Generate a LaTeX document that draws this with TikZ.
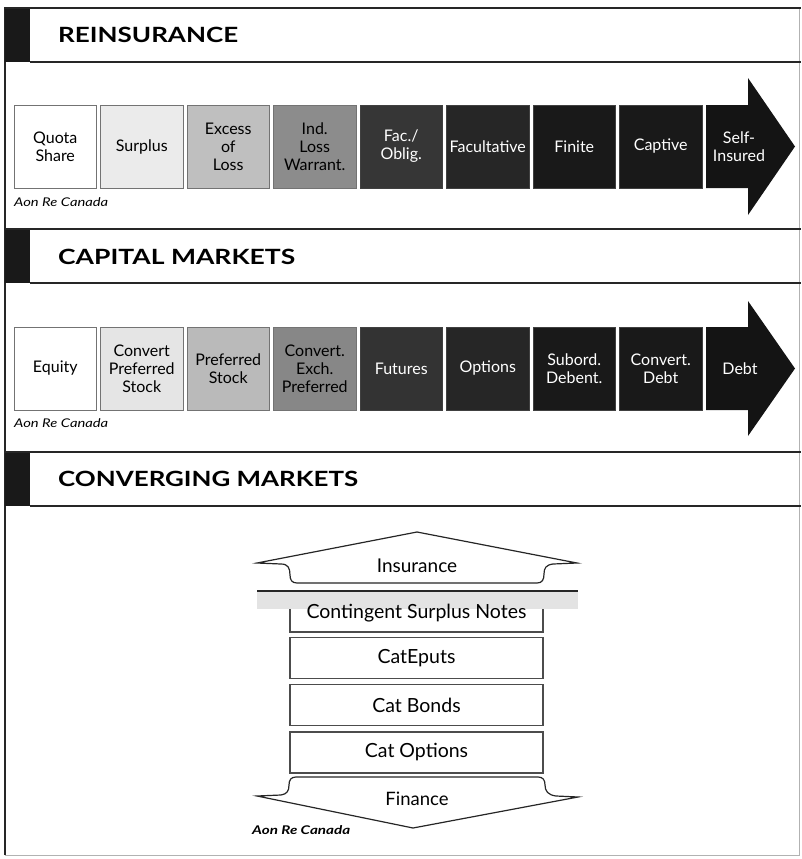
\documentclass[tikz,border=0pt]{standalone}
\usepackage{fontspec}
\setmainfont{Lato}
\usepackage{graphicx}
\newcommand\hdrtext[2]{\resizebox{#1}{\height}{\bfseries\fontsize{21}{21}\selectfont #2}}
\newcommand\aontext[2]{\resizebox{#1}{\height}{#2\fontsize{12}{12}\selectfont Aon Re Canada}}
\tikzset{
  cell/.style={rectangle, minimum width=82.5pt, minimum height=83pt, inner sep=1pt,
    align=center, font=\fontsize{16}{18}\selectfont, draw=black!55, line width=1pt},
  lcell/.style={cell, text=black},
  dcell/.style={cell, text=white, draw=black!75},
  frameline/.style={line width=1.4pt, black!85},
  stackbox/.style={rectangle, minimum width=253pt, minimum height=41pt, inner sep=0pt,
    draw=black!70, line width=1.2pt, font=\fontsize{19.5}{20}\selectfont},
  shapeline/.style={draw=black!85, line width=1.2pt, fill=white},
  hdr/.style={anchor=west, inner sep=0pt},
  aon/.style={anchor=base west, inner sep=0pt}
}
\begin{document}
\begin{tikzpicture}[x=1pt,y=-1pt]
\useasboundingbox (0,0) rectangle (801,859);
% outer frame
\draw[black!30, line width=0.8pt] (5,855) -- (799,855) -- (799,8);
\draw[frameline] (5,855) -- (5,8) -- (801,8);
% section headers
\foreach \t/\b in {8/62, 229/283, 452/506}{
  \fill[black!90] (5,\t) rectangle (30,\b);
  \draw[frameline] (5,\t) -- (801,\t);
  \draw[frameline] (30,\b) -- (801,\b);
}
\node[hdr] (h1) at (58,35) {\hdrtext{180pt}{REINSURANCE}};
\node[hdr] (h2) at (58,257) {\hdrtext{237pt}{CAPITAL MARKETS}};
\node[hdr] (h3) at (58,479) {\hdrtext{300pt}{CONVERGING MARKETS}};

% ---------- Reinsurance row ----------
\node[lcell, fill=white]    (r1) at (55.25,146.5)  {Quota\\Share};
\node[lcell, fill=black!8]  (r2) at (141.75,146.5) {Surplus};
\node[lcell, fill=black!25] (r3) at (228.25,146.5) {Excess\\of\\Loss};
\node[lcell, fill=black!45] (r4) at (314.75,146.5) {Ind.\\Loss\\Warrant.};
\node[dcell, fill=black!79] (r5) at (401.25,146.5) {Fac./\\Oblig.};
\node[dcell, fill=black!85] (r6) at (487.75,146.5) {Facultative};
\node[dcell, fill=black!90] (r7) at (574.25,146.5) {Finite};
\node[dcell, fill=black!90] (r8) at (660.75,146.5) {Captive};
\fill[black!92] (706,105) -- (748,105) -- (748,78) -- (795,146.5) -- (748,215) -- (748,188) -- (706,188) -- cycle;
\node[font=\fontsize{16}{18}\selectfont, text=white, align=center] (r9) at (739,146.5) {Self-\\Insured};
\node[aon] (a1) at (14,206) {\aontext{94pt}{\itshape}};

% ---------- Capital markets row ----------
\node[lcell, fill=white]    (c1) at (55.25,368.5)  {Equity};
\node[lcell, fill=black!10] (c2) at (141.75,368.5) {Convert\\Preferred\\Stock};
\node[lcell, fill=black!27] (c3) at (228.25,368.5) {Preferred\\Stock};
\node[lcell, fill=black!47] (c4) at (314.75,368.5) {Convert.\\Exch.\\Preferred};
\node[dcell, fill=black!80] (c5) at (401.25,368.5) {Futures};
\node[dcell, fill=black!85] (c6) at (487.75,368.5) {Options};
\node[dcell, fill=black!90] (c7) at (574.25,368.5) {Subord.\\Debent.};
\node[dcell, fill=black!90] (c8) at (660.75,368.5) {Convert.\\Debt};
\fill[black!92] (706,327) -- (748,327) -- (748,301) -- (795,368.5) -- (748,436) -- (748,410) -- (706,410) -- cycle;
\node[font=\fontsize{16}{18}\selectfont, text=white] (c9) at (740,368.5) {Debt};
\node[aon] (a2) at (14,427) {\aontext{94pt}{\itshape}};

% ---------- Converging markets ----------
\draw[shapeline] (257,563) -- (417,532) -- (577,563) -- (553,564)
  .. controls (546,565) and (544,568) .. (544,574)
  .. controls (544,580) and (542,583) .. (537,583) -- (297,583)
  .. controls (292,583) and (290,580) .. (290,575)
  .. controls (290,568) and (288,564) .. (281,564) -- cycle;
\node[font=\fontsize{19}{19}\selectfont] (ins) at (417,566) {Insurance};
\node[stackbox] (csn) at (416.5,611.5) {};
\fill[black!11] (257,592) rectangle (578,609);
\draw[line width=1.5pt, black!85] (257,591) -- (578,591);
\node[font=\fontsize{19.5}{20}\selectfont] (csnt) at (416.5,613) {Contingent Surplus Notes};
\node[stackbox] (cep) at (416.5,658) {CatEputs};
\node[stackbox] (cbd) at (416.5,705) {Cat Bonds};
\node[stackbox] (cop) at (416.5,752.5) {Cat Options};
\draw[shapeline] (257,796) -- (281,795)
  .. controls (287,794) and (289,791) .. (289,785)
  .. controls (289,780) and (291,777) .. (296,777) -- (538,777)
  .. controls (543,777) and (545,780) .. (545,785)
  .. controls (545,791) and (548,795) .. (556,796) -- (578,797) -- (413,828) -- cycle;
\node[font=\fontsize{18.5}{18.5}\selectfont] (fin) at (417,799) {Finance};
\node[aon] (a3) at (252,834) {\aontext{98pt}{\bfseries\itshape}};
\end{tikzpicture}
\end{document}
